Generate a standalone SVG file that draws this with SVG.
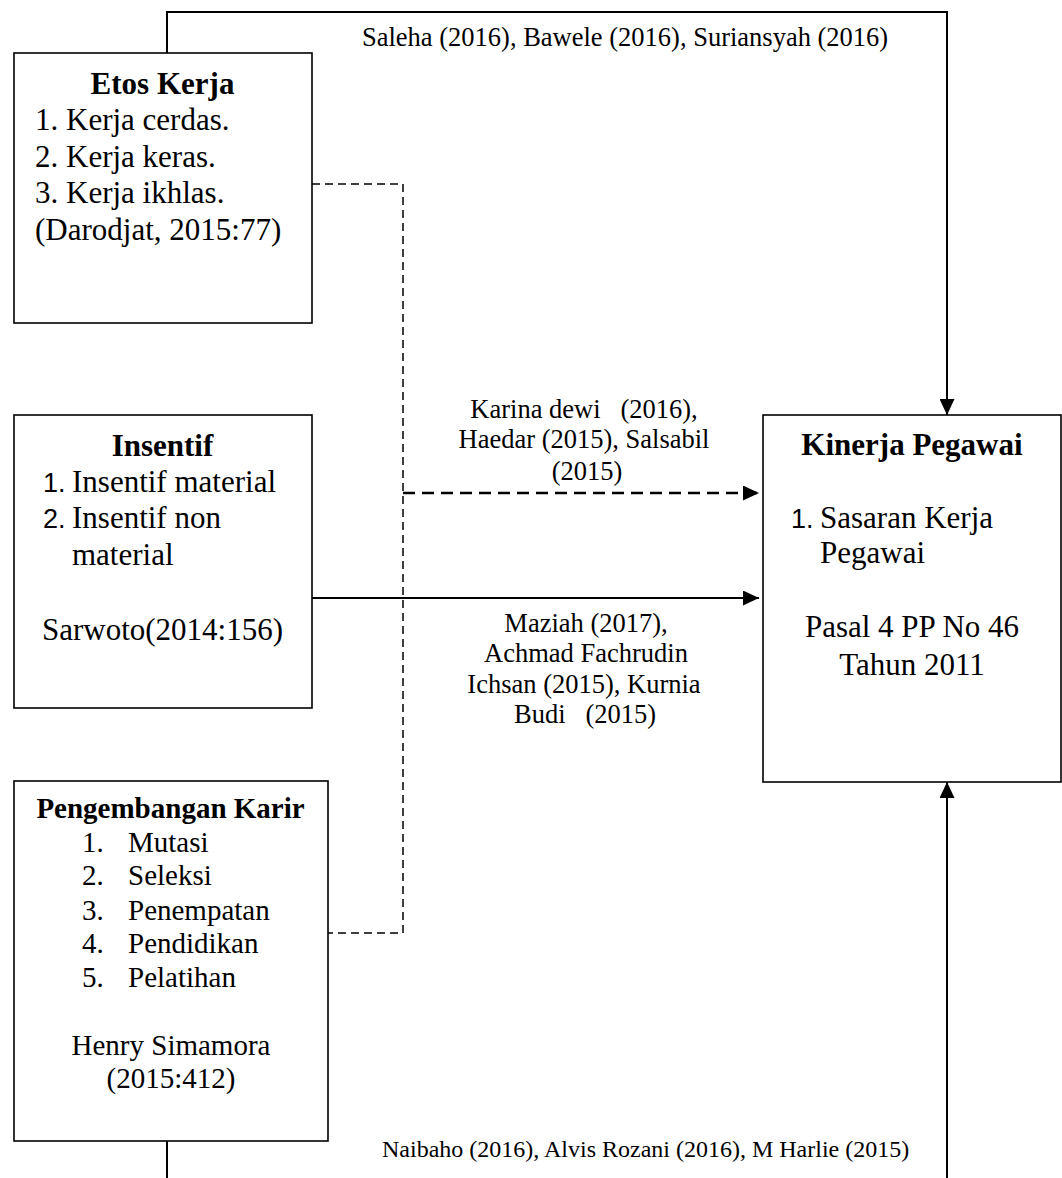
<svg xmlns="http://www.w3.org/2000/svg" width="1062" height="1178" viewBox="0 0 1062 1178">
<style>
  text { font-family: "Liberation Serif", "Times New Roman", serif; fill: #000; white-space: pre; }
  .t { font-size: 31px; font-weight: bold; text-anchor: middle; }
  .tk { font-size: 29px; font-weight: bold; text-anchor: middle; }
  .b { font-size: 31px; }
  .bk { font-size: 29px; }
  .m { text-anchor: middle; }
  .n { font-family: "Liberation Sans", Arial, sans-serif; font-size: 27px; }
  .lab { font-size: 26.5px; }
  .lab2 { font-size: 24px; }
  .box { fill: #fff; stroke: #000; stroke-width: 1.6; }
  .solid { fill: none; stroke: #000; stroke-width: 2; }
  .dash { fill: none; stroke: #000; stroke-width: 1.5; stroke-dasharray: 8 5; }
  .dash2 { fill: none; stroke: #000; stroke-width: 2.4; stroke-dasharray: 12 7; }
</style>
<defs>
  <marker id="arr" markerUnits="userSpaceOnUse" viewBox="0 0 16 15" refX="16" refY="7.5" markerWidth="16" markerHeight="15" orient="auto">
    <path d="M0,0 L16,7.5 L0,15 Z" fill="#000"/>
  </marker>
</defs>
<rect width="1062" height="1178" fill="#fff"/>

<g id="connectors">
  <polyline class="solid" points="167,53 167,12 947,12 947,415" marker-end="url(#arr)"/>
  <polyline class="solid" points="167,1141 167,1178"/>
  <polyline class="solid" points="947,1178 947,782" marker-end="url(#arr)"/>
  <line class="solid" x1="312" y1="598" x2="759" y2="598" marker-end="url(#arr)"/>
  <polyline class="dash" points="312,184 403,184 403,933 328,933"/>
  <line class="dash2" x1="403" y1="493" x2="759" y2="493" marker-end="url(#arr)"/>
  <text class="lab" x="362" y="46">Saleha (2016), Bawele (2016), Suriansyah (2016)</text>
  <text class="lab m" x="584" y="418">Karina dewi   (2016),</text>
  <text class="lab m" x="584" y="448">Haedar (2015), Salsabil</text>
  <text class="lab m" x="587" y="480">(2015)</text>
  <text class="lab m" x="586" y="632">Maziah (2017),</text>
  <text class="lab m" x="586" y="662">Achmad Fachrudin</text>
  <text class="lab m" x="584" y="693">Ichsan (2015), Kurnia</text>
  <text class="lab m" x="585" y="723">Budi   (2015)</text>
  <text class="lab2" x="382" y="1157">Naibaho (2016), Alvis Rozani (2016), M Harlie (2015)</text>
</g>

<g id="etos-kerja">
  <rect class="box" x="14" y="53" width="298" height="270"/>
  <text class="t" x="162.5" y="94">Etos Kerja</text>
  <text class="b" x="35" y="130">1. Kerja cerdas.</text>
  <text class="b" x="35" y="167">2. Kerja keras.</text>
  <text class="b" x="35" y="203">3. Kerja ikhlas.</text>
  <text class="b" x="35" y="240">(Darodjat, 2015:77)</text>
</g>

<g id="insentif">
  <rect class="box" x="14" y="415" width="298" height="293"/>
  <text class="t" x="162.5" y="456">Insentif</text>
  <text class="n" x="43" y="492">1.</text>
  <text class="b" x="72" y="492">Insentif material</text>
  <text class="n" x="43" y="528">2.</text>
  <text class="b" x="72" y="528">Insentif non</text>
  <text class="b" x="72" y="565">material</text>
  <text class="b m" x="162.5" y="640">Sarwoto(2014:156)</text>
</g>

<g id="pengembangan-karir">
  <rect class="box" x="14" y="781" width="314" height="360"/>
  <text class="tk" x="170.5" y="818">Pengembangan Karir</text>
  <text class="bk" x="82" y="852">1.</text><text class="bk" x="128" y="852">Mutasi</text>
  <text class="bk" x="82" y="885">2.</text><text class="bk" x="128" y="885">Seleksi</text>
  <text class="bk" x="82" y="920">3.</text><text class="bk" x="128" y="920">Penempatan</text>
  <text class="bk" x="82" y="953">4.</text><text class="bk" x="128" y="953">Pendidikan</text>
  <text class="bk" x="82" y="987">5.</text><text class="bk" x="128" y="987">Pelatihan</text>
  <text class="bk m" x="171" y="1055">Henry Simamora</text>
  <text class="bk m" x="171" y="1088">(2015:412)</text>
</g>

<g id="kinerja-pegawai">
  <rect class="box" x="763" y="415" width="298" height="367"/>
  <text class="t" x="912" y="455">Kinerja Pegawai</text>
  <text class="n" x="791" y="528">1.</text>
  <text class="b" x="820" y="528">Sasaran Kerja</text>
  <text class="b" x="820" y="563">Pegawai</text>
  <text class="b m" x="912" y="637">Pasal 4 PP No 46</text>
  <text class="b m" x="912" y="675">Tahun 2011</text>
</g>
</svg>
